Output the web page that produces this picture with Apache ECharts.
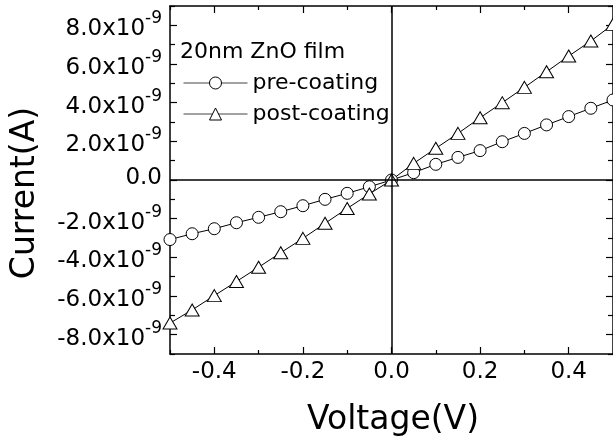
<!DOCTYPE html>
<html>
<head>
<meta charset="utf-8">
<script src="https://cdn.jsdelivr.net/npm/echarts@6/dist/echarts.min.js"></script>
<style>
html,body{margin:0;padding:0;background:#fff;}
#c{width:613px;height:445px;}
</style>
</head>
<body>
<div id="c"></div>
<script>
// Data (voltage in V, current in A)
const voltage = [-0.5,-0.45,-0.4,-0.35,-0.3,-0.25,-0.2,-0.15,-0.1,-0.05,0,0.05,0.1,0.15,0.2,0.25,0.3,0.35,0.4,0.45,0.5];
const preCoating = [-3.08e-9,-2.78e-9,-2.52e-9,-2.21e-9,-1.93e-9,-1.64e-9,-1.33e-9,-1.00e-9,-0.69e-9,-0.35e-9,0,0.38e-9,0.81e-9,1.17e-9,1.52e-9,1.98e-9,2.41e-9,2.85e-9,3.28e-9,3.71e-9,4.14e-9];
const postCoating = [-7.40e-9,-6.72e-9,-5.98e-9,-5.25e-9,-4.51e-9,-3.76e-9,-3.02e-9,-2.24e-9,-1.47e-9,-0.72e-9,0,0.86e-9,1.64e-9,2.41e-9,3.22e-9,4.00e-9,4.79e-9,5.60e-9,6.41e-9,7.19e-9,8.05e-9];
const xMajorTicks = [-0.4,-0.2,0,0.2,0.4];
const xMinorTicks = [-0.5,-0.3,-0.1,0.1,0.3,0.5];
const yMajorTicks = [-8e-9,-6e-9,-4e-9,-2e-9,0,2e-9,4e-9,6e-9,8e-9];
const yMinorTicks = [-9e-9,-7e-9,-5e-9,-3e-9,-1e-9,1e-9,3e-9,5e-9,7e-9,9e-9];
const seriesNames = ['pre-coating','post-coating'];
const legendTitle = '20nm ZnO film';
const xTitle = 'Voltage(V)';
const yTitle = 'Current(A)';

const FONT = 'DejaVu Sans';
const pairs = arr => voltage.map((v,i)=>[v,arr[i]]);

const xBase = {type:'value', min:-0.5, max:0.5, interval:0.1, gridIndex:0, splitLine:{show:false}};
const yBase = {type:'value', min:-9e-9, max:9e-9, interval:1e-9, gridIndex:0, splitLine:{show:false}};
const lineStyle = {color:'#000', width:1.5};

function yLabel(v){
  const n = Math.round(v*1e9);
  if (n === 0) return '{z|0.0}';
  return '{m|' + n.toFixed(1) + 'x10}{s|-9}';
}

const chart = echarts.init(document.getElementById('c'), null, {renderer:'canvas'});
chart.setOption({
  animation:false,
  backgroundColor:'#fff',
  grid:{left:170, top:6, width:446, height:348, containLabel:false},
  xAxis:[
    Object.assign({}, xBase, {position:'bottom',
      axisLine:{show:true, onZero:false, lineStyle},
      axisTick:{show:true, inside:true, length:7, customValues:xMajorTicks, lineStyle:{color:'#000',width:1.2}},
      axisLabel:{show:true, customValues:xMajorTicks, margin:7, color:'#000', fontFamily:FONT, fontSize:23,
        formatter:v=>(Math.abs(v)<1e-9?0:v).toFixed(1)}}),
    Object.assign({}, xBase, {position:'bottom',
      axisLine:{show:false, onZero:false},
      axisTick:{show:true, inside:true, length:4, customValues:xMinorTicks, lineStyle:{color:'#000',width:1.2}},
      axisLabel:{show:false}}),
    Object.assign({}, xBase, {position:'top',
      axisLine:{show:true, onZero:false, lineStyle},
      axisTick:{show:true, inside:true, length:7, customValues:xMajorTicks, lineStyle:{color:'#000',width:1.2}},
      axisLabel:{show:false}}),
    Object.assign({}, xBase, {position:'top',
      axisLine:{show:false, onZero:false},
      axisTick:{show:true, inside:true, length:4, customValues:xMinorTicks, lineStyle:{color:'#000',width:1.2}},
      axisLabel:{show:false}})
  ],
  yAxis:[
    Object.assign({}, yBase, {position:'left',
      axisLine:{show:true, onZero:false, lineStyle},
      axisTick:{show:true, inside:true, length:7, customValues:yMajorTicks, lineStyle:{color:'#000',width:1.2}},
      axisLabel:{show:true, customValues:yMajorTicks, margin:8, color:'#000', formatter:yLabel,
        rich:{
          m:{fontFamily:FONT, fontSize:23, color:'#000', padding:[8,0,0,0]},
          s:{fontFamily:FONT, fontSize:17, color:'#000', padding:[0,0,13,0]},
          z:{fontFamily:FONT, fontSize:23, color:'#000', padding:[0,0,4,0]}
        }}}),
    Object.assign({}, yBase, {position:'left',
      axisLine:{show:false, onZero:false},
      axisTick:{show:true, inside:true, length:5, customValues:yMinorTicks, lineStyle:{color:'#000',width:1.2}},
      axisLabel:{show:false}}),
    Object.assign({}, yBase, {position:'right',
      axisLine:{show:true, onZero:false, lineStyle},
      axisTick:{show:true, inside:true, length:7, customValues:yMajorTicks, lineStyle:{color:'#000',width:1.2}},
      axisLabel:{show:false}}),
    Object.assign({}, yBase, {position:'right',
      axisLine:{show:false, onZero:false},
      axisTick:{show:true, inside:true, length:5, customValues:yMinorTicks, lineStyle:{color:'#000',width:1.2}},
      axisLabel:{show:false}})
  ],
  legend:{
    show:true, orient:'vertical', left:178, top:67, itemGap:9,
    itemWidth:64, itemHeight:15,
    data:seriesNames,
    lineStyle:{width:1, color:'#444'},
    itemStyle:{borderWidth:1, borderColor:'#000', color:'#fff'},
    textStyle:{fontFamily:FONT, fontSize:22, color:'#000', padding:[0,0,0,0]},
    selectedMode:false
  },
  graphic:[
    {type:'text', left:180, top:41, z:10,
      style:{text:legendTitle, font:'22px "DejaVu Sans"', fill:'#000'}},
    {type:'text', x:393, y:420, z:10,
      style:{text:xTitle, font:'33px "DejaVu Sans"', fill:'#000', textAlign:'center', textVerticalAlign:'middle'}},
    {type:'text', x:25, y:193, rotation:Math.PI/2, z:10,
      style:{text:yTitle, font:'33px "DejaVu Sans"', fill:'#000', textAlign:'center', textVerticalAlign:'middle'}}
  ],
  series:[
    {type:'line', data:[], xAxisIndex:0, yAxisIndex:0, z:1, silent:true,
      markLine:{silent:true, symbol:['none','none'], label:{show:false},
        lineStyle:{color:'#000', width:1.5, type:'solid'},
        emphasis:{disabled:true},
        data:[{xAxis:0},{yAxis:0}]}},
    {name:seriesNames[0], type:'line', data:pairs(preCoating), xAxisIndex:0, yAxisIndex:0, z:3,
      symbol:'circle', symbolSize:12, showAllSymbol:true,
      lineStyle:{color:'#000', width:1},
      itemStyle:{color:'#fff', borderColor:'#000', borderWidth:1}},
    {name:seriesNames[1], type:'line', data:pairs(postCoating), xAxisIndex:0, yAxisIndex:0, z:3,
      symbol:'triangle', symbolSize:[14,12], showAllSymbol:true,
      lineStyle:{color:'#000', width:1},
      itemStyle:{color:'#fff', borderColor:'#000', borderWidth:1}}
  ]
});
</script>
</body>
</html>
